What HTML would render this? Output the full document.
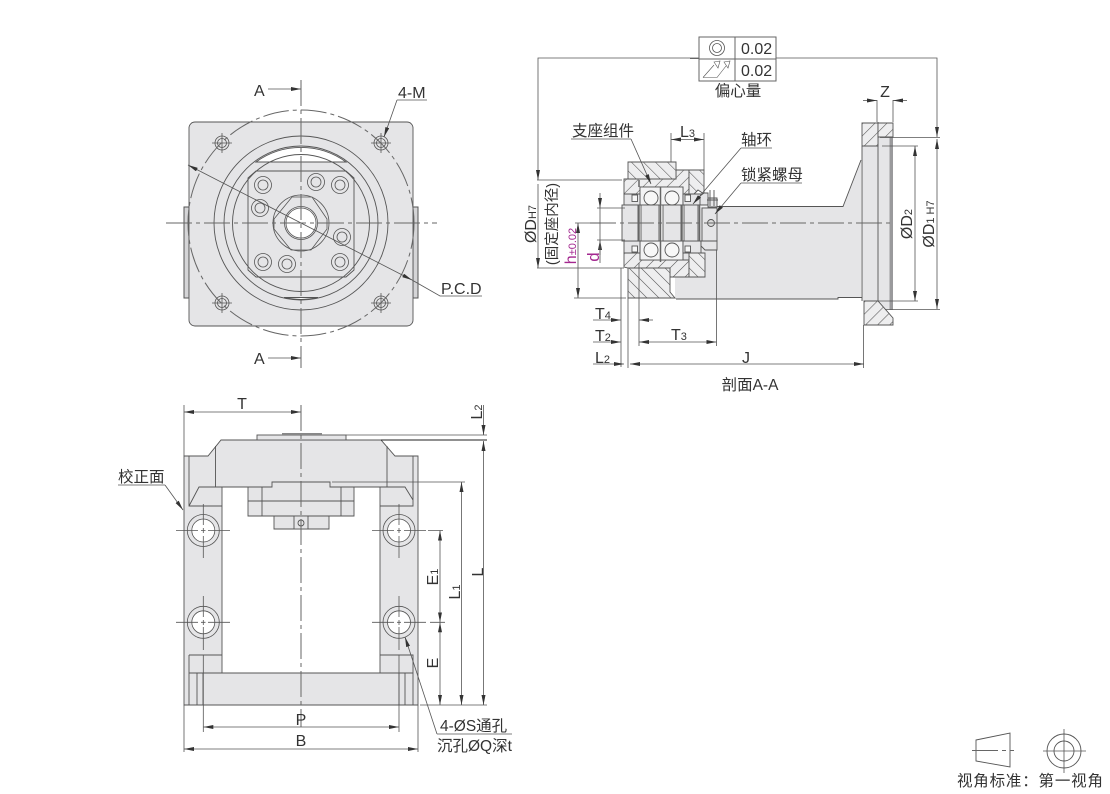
<!DOCTYPE html>
<html><head><meta charset="utf-8"><style>
html,body{margin:0;padding:0;background:#fff}
svg{display:block}
text{font-family:"Liberation Sans","Noto Sans CJK SC",sans-serif;font-size:15.5px;fill:#333}
.e{font-size:16px}
.l{stroke:#555;stroke-width:.9;fill:none}
.t{stroke:#555;stroke-width:.8;fill:none}
.g{fill:#e5e5e7;stroke:#555;stroke-width:.9}
.c{stroke:#666;stroke-width:1;fill:none;stroke-dasharray:26 4 4 4}
.s{font-size:11px}
.m{text-anchor:middle}
</style></head><body>
<svg width="1110" height="794" viewBox="0 0 1110 794" xmlns="http://www.w3.org/2000/svg">
<defs>
<marker id="a" viewBox="0 0 10 4" refX="10" refY="2" markerWidth="10" markerHeight="4" markerUnits="userSpaceOnUse" orient="auto-start-reverse"><path d="M0,0L10,2L0,4z" fill="#333"/></marker>
<pattern id="h1" width="8.500" height="8.500" patternUnits="userSpaceOnUse" patternTransform="rotate(-45)"><rect width="8.500" height="8.500" fill="#eeeeef"/><line x1="0" y1="0" x2="0" y2="8.500" stroke="#555" stroke-width="1.100"/></pattern>
<pattern id="h2" width="8.500" height="8.500" patternUnits="userSpaceOnUse" patternTransform="rotate(45)"><rect width="8.500" height="8.500" fill="#eeeeef"/><line x1="0" y1="0" x2="0" y2="8.500" stroke="#555" stroke-width="1.100"/></pattern>
</defs>

<!-- TOP VIEW -->
<rect x="184" y="207" width="5" height="91" fill="#d5d5d7" stroke="#555"/>
<rect x="413" y="207" width="5" height="91" fill="#d5d5d7" stroke="#555"/>
<rect x="189" y="122" width="224" height="204" rx="6" class="g"/>
<circle cx="301" cy="223" r="87" class="l"/>
<path d="M256,162A77,77 0 0 1 346,162z" fill="#fff" stroke="#555" stroke-width=".9"/>
<path d="M284,297.500A77,77 0 0 0 318,297.500z" fill="#fff" stroke="#555" stroke-width=".9"/>
<circle cx="301" cy="223" r="77" class="l"/>
<circle cx="301" cy="223" r="68.500" class="l"/>
<path d="M256,171H346L354,178V270L346,277H256L248,270V178z" class="l"/>
<g fill="none" stroke="#555" stroke-width=".8">
<circle cx="263" cy="185" r="8.500"/><circle cx="263" cy="185" r="5"/>
<circle cx="316" cy="182" r="8.500"/><circle cx="316" cy="182" r="5"/>
<circle cx="340" cy="185" r="8.500"/><circle cx="340" cy="185" r="5"/>
<circle cx="260" cy="208" r="8.500"/><circle cx="260" cy="208" r="5"/>
<circle cx="342" cy="237" r="8.500"/><circle cx="342" cy="237" r="5"/>
<circle cx="340" cy="262" r="8.500"/><circle cx="340" cy="262" r="5"/>
<circle cx="287" cy="264" r="8.500"/><circle cx="287" cy="264" r="5"/>
<circle cx="263" cy="262" r="8.500"/><circle cx="263" cy="262" r="5"/>
<circle cx="301" cy="223" r="28"/>
<path d="M292,197H312L327,219V229L311,250H291L274,229V219z"/>
<circle cx="301" cy="223" r="16.500"/><circle cx="301" cy="223" r="15" fill="#fff"/>
<circle cx="222" cy="143" r="7"/><circle cx="222" cy="143" r="4.500"/><path d="M212,143H232M222,133V153"/>
<circle cx="381" cy="143" r="7"/><circle cx="381" cy="143" r="4.500"/><path d="M371,143H391M381,133V153"/>
<circle cx="222" cy="303" r="7"/><circle cx="222" cy="303" r="4.500"/><path d="M212,303H232M222,293V313"/>
<circle cx="381" cy="303" r="7"/><circle cx="381" cy="303" r="4.500"/><path d="M371,303H391M381,293V313"/>
</g>
<circle cx="301" cy="223" r="113" class="c" stroke-dasharray="30 4 4 4"/>
<line x1="301" y1="80" x2="301" y2="368" class="c"/>
<line x1="166" y1="223" x2="437" y2="223" class="c"/>
<line x1="188" y1="165" x2="412" y2="280" class="t" marker-start="url(#a)" marker-end="url(#a)"/>
<path d="M412,280L440,296H482" class="t"/>
<text x="254" y="96" class="e">A</text><line x1="268" y1="89" x2="301" y2="89" class="t" marker-end="url(#a)"/>
<text x="254" y="364" class="e">A</text><line x1="268" y1="358" x2="301" y2="358" class="t" marker-end="url(#a)"/>
<text x="398" y="98" class="e">4-M</text><path d="M427,100H397" class="t"/><line x1="397" y1="100" x2="384" y2="137" class="t" marker-end="url(#a)"/>
<text x="441" y="294" class="e">P.C.D</text>

<!-- SECTION VIEW -->
<path d="M689,206.500H843L861,160V298H838V299H675V240H689z" fill="#e5e5e7"/>
<path d="M716,206.500H843L861,160M676,299H838V297.500H863" class="l"/>
<path d="M862,146H878V137H893V310H878V301H862z" fill="#e5e5e7"/>
<path d="M862,146V301M878,122V318" class="l"/>
<rect x="889.500" y="137" width="3.500" height="173" fill="#9a9a9c"/>
<path d="M862,123H878V146H862z" fill="url(#h2)" stroke="#555" stroke-width=".9"/>
<path d="M878,123H893V137H878z" fill="url(#h2)" stroke="#555" stroke-width=".9"/>
<path d="M864,301H878L893,318V325H864z" fill="url(#h2)" stroke="#555" stroke-width=".9"/>
<path d="M882,146H918M878,301H918M880,137.500H940M885,309.500H940M863.500,325V368" class="t"/>
<line x1="877" y1="100.500" x2="863" y2="100.500" class="t" marker-start="url(#a)"/>
<line x1="893" y1="100.500" x2="907" y2="100.500" class="t" marker-start="url(#a)"/>
<path d="M877,100V122M893,100V122" class="t"/>
<text x="885" y="97" class="m e">Z</text>
<line x1="915" y1="146" x2="915" y2="301" class="t" marker-start="url(#a)" marker-end="url(#a)"/>
<line x1="937" y1="139" x2="937" y2="309" class="t" marker-start="url(#a)" marker-end="url(#a)"/>
<path d="M776,58H937V137" class="t" marker-end="url(#a)"/>
<text transform="rotate(-90 912 224)" x="912" y="224" class="m e">ØD<tspan class="s">2</tspan></text>
<text transform="rotate(-90 934 224)" x="934" y="224" class="m e">ØD<tspan class="s">1 H7</tspan></text>

<!-- hatches top -->
<path d="M624,179H676V170H689V195H683V187H640V194H624z" fill="url(#h2)" stroke="#555" stroke-width=".9"/>
<path d="M628,162H676V179H628z" fill="url(#h1)" stroke="#555" stroke-width=".9"/>
<path d="M689,170H704V194L698,190 694,194H689z" fill="url(#h1)" stroke="#555" stroke-width=".9"/>
<!-- hatches bottom -->
<path d="M624,253H640V260H689V277H670V268H628L624,267z" fill="url(#h2)" stroke="#555" stroke-width=".9"/>
<path d="M628,268H670V292L675,298H628z" fill="url(#h1)" stroke="#555" stroke-width=".9"/>
<path d="M689,253H705V277H689z" fill="url(#h1)" stroke="#555" stroke-width=".9"/>
<!-- bearing + cells -->
<g stroke="#555" stroke-width=".9">
<rect x="640" y="187" width="43" height="18" fill="#f3f3f4"/>
<rect x="640" y="241" width="43" height="19" fill="#f3f3f4"/>
<path d="M624,194H640V205H624zM624,241H640V253H624zM683,194H701V205H683zM683,241H701V253H683z" fill="#e5e5e7"/>
<g fill="#e5e5e7">
<rect x="622" y="205" width="16" height="36"/><rect x="641" y="205" width="18" height="36"/><rect x="663" y="205" width="18" height="36"/><rect x="684" y="205" width="14" height="36"/><rect x="702" y="208" width="15" height="33"/>
</g>
<g fill="#f7f7f7">
<rect x="632" y="195" width="5.500" height="6.500"/><rect x="632" y="246" width="5.500" height="6"/><rect x="685" y="195" width="5.500" height="6.500"/><rect x="685" y="246" width="5.500" height="6"/>
<circle cx="651" cy="198" r="7"/><circle cx="672" cy="198" r="7"/><circle cx="651" cy="250" r="7"/><circle cx="672" cy="250" r="7"/>
</g>
<path d="M700,196L704,193H708V205H700z" fill="#e5e5e7"/>
<path d="M708,198H717V207H708z" fill="#e5e5e7"/>
<path d="M701,241H717V250H705L701,246z" fill="#e5e5e7"/>
<path d="M710,190V206M714,190V206M707,200H718" fill="none"/>
<circle cx="711" cy="223" r="3.500" fill="#ddd"/>
</g>
<path d="M639,205V241M660.500,187V262M682,205V241M699.500,205V241M639,180V187" stroke="#666" stroke-width="1.500" fill="none"/>
<line x1="590" y1="223" x2="892" y2="223" class="c" stroke-width="1.300"/>
<!-- section dims -->
<path d="M537,180H622M537,268H624M575,223H600M574,298H626M597,208H625M597,240H625" class="t"/>
<path d="M699,58H538V180" class="t" marker-end="url(#a)"/>
<line x1="538" y1="184" x2="538" y2="268" class="t" marker-end="url(#a)"/>
<line x1="578" y1="223" x2="578" y2="298" class="t" marker-start="url(#a)" marker-end="url(#a)"/>
<line x1="600" y1="193" x2="600" y2="208" class="t" marker-end="url(#a)"/>
<line x1="600" y1="255" x2="600" y2="240" class="t" marker-end="url(#a)"/>
<line x1="600" y1="208" x2="600" y2="263" class="t"/>
<path d="M621,268V367M628,298V368M639,263V346M716.500,250V346M704,133V170M671,133V162" class="t"/>
<line x1="593" y1="320" x2="621" y2="320" class="t" marker-end="url(#a)"/>
<line x1="653" y1="320" x2="639" y2="320" class="t" marker-end="url(#a)"/>
<line x1="593" y1="342" x2="621" y2="342" class="t" marker-end="url(#a)"/>
<line x1="639" y1="342" x2="716.500" y2="342" class="t" marker-start="url(#a)" marker-end="url(#a)"/>
<line x1="593" y1="364" x2="624" y2="364" class="t" marker-end="url(#a)"/>
<line x1="630" y1="364" x2="864" y2="364" class="t" marker-start="url(#a)" marker-end="url(#a)"/>
<line x1="671" y1="139.500" x2="704" y2="139.500" class="t" marker-start="url(#a)" marker-end="url(#a)"/>
<text x="595" y="319" class="e">T<tspan class="s">4</tspan></text>
<text x="595" y="341" class="e">T<tspan class="s">2</tspan></text>
<text x="671" y="340" class="e">T<tspan class="s">3</tspan></text>
<text x="595" y="363" class="e">L<tspan class="s">2</tspan></text>
<text x="746" y="363" class="m e">J</text>
<text x="680" y="137" class="e">L<tspan class="s">3</tspan></text>
<text x="750" y="390" class="m">剖面A-A</text>
<text transform="rotate(-90 536 224)" x="536" y="224" class="m e">ØD<tspan class="s">H7</tspan></text>
<text transform="rotate(-90 557 224)" x="557" y="224" class="m" style="font-size:14.500px">(固定座内径)</text>
<text transform="rotate(-90 576 246)" x="576" y="246" class="m e" style="fill:#a3278f">h<tspan class="s" style="fill:#a3278f">±0.02</tspan></text>
<text transform="rotate(-90 599 257)" x="599" y="257" class="m" style="fill:#a3278f;font-size:17px">d</text>
<text x="572" y="136">支座组件</text>
<path d="M571,139H631" class="t"/><line x1="631" y1="139" x2="651" y2="184" class="t" marker-end="url(#a)"/>
<text x="741" y="145">轴环</text>
<path d="M741,148H772" class="t"/><line x1="741" y1="148" x2="693" y2="204" class="t" marker-end="url(#a)"/>
<text x="741" y="180">锁紧螺母</text>
<path d="M741,183H802" class="t"/><line x1="741" y1="183" x2="715" y2="214" class="t" marker-end="url(#a)"/>
<!-- frame -->
<rect x="699" y="37" width="77" height="44" fill="#fff" stroke="#666"/>
<path d="M690,58.500H699M699,59H776M735,37V81" stroke="#666" fill="none"/>
<circle cx="717" cy="48" r="7.500" class="t" stroke-width=".7"/><circle cx="717" cy="48" r="4.500" class="t" stroke-width=".7"/>
<path d="M703,77.500H717L726,66M703,77.500L714,65" stroke="#555" stroke-width=".6" fill="none"/>
<path d="M714,62L720,61 718,68zM724,62L730,61 728,68z" fill="#fff" stroke="#555" stroke-width=".6"/>
<text x="741" y="54" class="e">0.02</text><text x="741" y="76" class="e">0.02</text>
<text x="738" y="96" class="m">偏心量</text>

<!-- BOTTOM-LEFT VIEW -->
<path d="M184,456H208L221,440H381L395,456H418V705H184zM222,487V673H380V487z" fill-rule="evenodd" class="g"/>
<rect x="257" y="435" width="89" height="5" class="g"/>
<rect x="282" y="433" width="40" height="2" fill="#888"/>
<path d="M272,487V482H330V487H354V516H329V529H274V516H248V487z" class="g"/>
<path d="M248,501H354M262,487V516M341,487V516M248,516H354" class="l"/>
<rect x="294" y="516" width="14" height="13" class="g"/>
<circle cx="301" cy="523" r="3" class="g"/>
<path d="M215.500,446V487M387,446V487M189,456V506H222M413,456V506H380M189,506L199,487H222M413,500L405,487H380M189,655H222M189,655V705M380,655H413V705M189,673H413M197,673V705M203,673V705M399,673V705M405,673V705" class="l"/>
<g stroke="#555" stroke-width=".8">
<circle cx="203.300" cy="530.500" r="16" fill="#e5e5e7"/><circle cx="203.300" cy="530.500" r="11.500" fill="#fff"/>
<circle cx="399" cy="530.500" r="16" fill="#e5e5e7"/><circle cx="399" cy="530.500" r="11.500" fill="#fff"/>
<circle cx="203.300" cy="622.300" r="16" fill="#e5e5e7"/><circle cx="203.300" cy="622.300" r="11.500" fill="#fff"/>
<circle cx="399" cy="622.300" r="16" fill="#e5e5e7"/><circle cx="399" cy="622.300" r="11.500" fill="#fff"/>
</g>
<path d="M176,530.500H198M208,530.500H230M203.300,504V525M203.300,536V558M372,530.500H394M404,530.500H426M399,504V525M399,536V558M176,622.300H198M208,622.300H230M203.300,596V617M203.300,627V650M372,622.300H394M404,622.300H426M399,596V617M399,627V650" class="t"/>
<path d="M201,530.500H205.500M203.300,528V533M397,530.500H401M399,528V533M201,622.300H205.500M203.300,620V625M397,622.300H401M399,620V625" class="t"/>
<line x1="301" y1="405" x2="301" y2="727" class="c"/>
<path d="M203.300,655V732M399,655V732M184,705V752M418,705V752M184,405V456" class="t"/>
<line x1="184" y1="412" x2="301" y2="412" class="t" marker-start="url(#a)" marker-end="url(#a)"/>
<line x1="203.300" y1="727" x2="399" y2="727" class="t" marker-start="url(#a)" marker-end="url(#a)"/>
<line x1="184" y1="749" x2="418" y2="749" class="t" marker-start="url(#a)" marker-end="url(#a)"/>
<text x="242" y="409" class="m e">T</text><text x="301" y="725" class="m e">P</text><text x="301" y="746" class="m e">B</text>
<path d="M346,435H487" class="t"/><path d="M381,440H487" stroke="#222" fill="none"/>
<path d="M332,482H465M428,530.500H443M430,622.300H445M420,705H487" class="t"/>
<line x1="483.500" y1="405" x2="483.500" y2="435" class="t" marker-end="url(#a)"/>
<line x1="483.500" y1="441" x2="483.500" y2="705" class="t" marker-start="url(#a)" marker-end="url(#a)"/>
<line x1="461.500" y1="482" x2="461.500" y2="705" class="t" marker-start="url(#a)" marker-end="url(#a)"/>
<line x1="440" y1="530.500" x2="440" y2="622.300" class="t" marker-start="url(#a)" marker-end="url(#a)"/>
<line x1="440" y1="622.300" x2="440" y2="705" class="t" marker-start="url(#a)" marker-end="url(#a)"/>
<text transform="rotate(-90 482 412)" x="482" y="412" class="m e">L<tspan class="s">2</tspan></text>
<text transform="rotate(-90 483 572)" x="483" y="572" class="m e">L</text>
<text transform="rotate(-90 460 592)" x="460" y="592" class="m e">L<tspan class="s">1</tspan></text>
<text transform="rotate(-90 438 577)" x="438" y="577" class="m e">E<tspan class="s">1</tspan></text>
<text transform="rotate(-90 438 663)" x="438" y="663" class="m e">E</text>
<text x="118" y="482">校正面</text>
<path d="M118,485H165" class="t"/><line x1="165" y1="485" x2="183" y2="510" class="t" marker-end="url(#a)"/>
<text x="440" y="731">4-ØS通孔</text>
<text x="437" y="751">沉孔ØQ深t</text>
<path d="M437,734H512" class="t"/><line x1="437" y1="734" x2="405" y2="637" class="t" marker-end="url(#a)"/>

<!-- LEGEND -->
<path d="M976,740L1010,733V767L976,761z" class="l"/>
<line x1="972" y1="750.500" x2="1014" y2="750.500" class="c" stroke-dasharray="12 3 3 3"/>
<circle cx="1064" cy="751" r="17" class="l"/><circle cx="1064" cy="751" r="10" class="l"/>
<path d="M1043,751H1086M1064,729V773" class="t"/>
<text x="957" y="786" style="font-size:15.500px" textLength="146">视角标准：第一视角</text>
</svg>
</body></html>
